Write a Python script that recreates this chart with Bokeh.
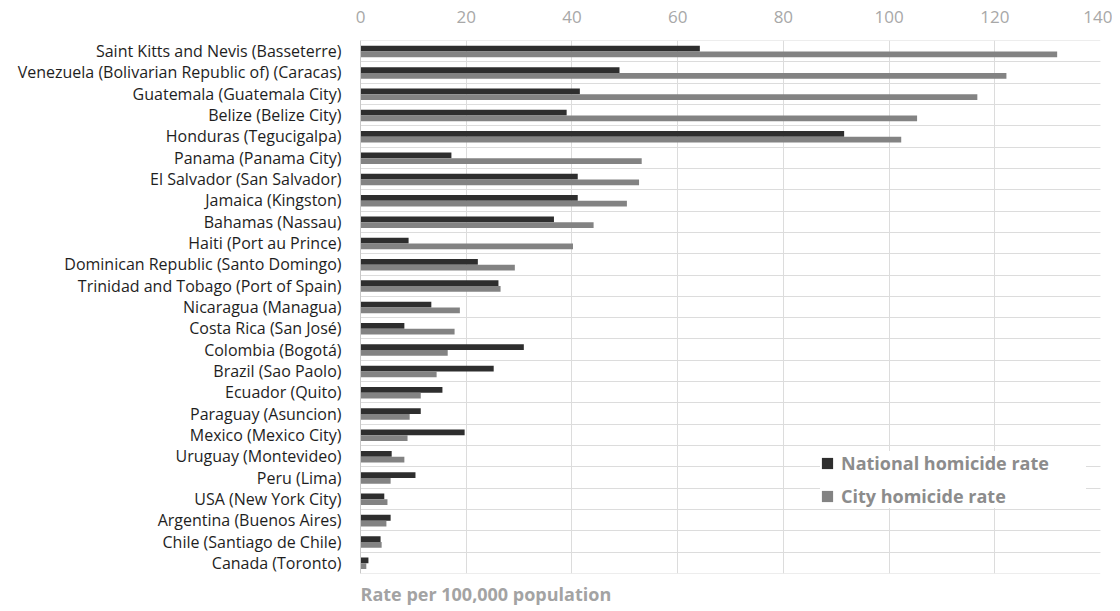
from bokeh.plotting import figure
from bokeh.models import (ColumnDataSource, FactorRange, Range1d, FixedTicker,
                          Legend, LegendItem, Title)
from bokeh.transform import dodge
from bokeh.embed import file_html
from bokeh.resources import INLINE

categories = [
    "Saint Kitts and Nevis (Basseterre)",
    "Venezuela (Bolivarian Republic of) (Caracas)",
    "Guatemala (Guatemala City)",
    "Belize (Belize City)",
    "Honduras (Tegucigalpa)",
    "Panama (Panama City)",
    "El Salvador (San Salvador)",
    "Jamaica (Kingston)",
    "Bahamas (Nassau)",
    "Haiti (Port au Prince)",
    "Dominican Republic (Santo Domingo)",
    "Trinidad and Tobago (Port of Spain)",
    "Nicaragua (Managua)",
    "Costa Rica (San José)",
    "Colombia (Bogotá)",
    "Brazil (Sao Paolo)",
    "Ecuador (Quito)",
    "Paraguay (Asuncion)",
    "Mexico (Mexico City)",
    "Uruguay (Montevideo)",
    "Peru (Lima)",
    "USA (New York City)",
    "Argentina (Buenos Aires)",
    "Chile (Santiago de Chile)",
    "Canada (Toronto)",
]
national = [64.2, 49.0, 41.5, 39.0, 91.5, 17.2, 41.1, 41.1, 36.6, 9.1,
            22.2, 26.1, 13.4, 8.3, 30.9, 25.2, 15.5, 11.4, 19.7, 5.9,
            10.4, 4.5, 5.7, 3.8, 1.5]
city = [131.8, 122.2, 116.7, 105.3, 102.3, 53.2, 52.7, 50.4, 44.1, 40.2,
        29.2, 26.5, 18.8, 17.8, 16.5, 14.4, 11.4, 9.3, 8.9, 8.3,
        5.7, 5.1, 4.9, 4.0, 1.1]
x_ticks = [0, 20, 40, 60, 80, 100, 120, 140]
series_names = ["National homicide rate", "City homicide rate"]
axis_title = "Rate per 100,000 population"

FONT = "Open Sans"
NAT_COLOR = "#2e2e2e"
CITY_COLOR = "#838383"
GRID_COLOR = "#dcdcdc"

source = ColumnDataSource(data=dict(cat=categories, national=national, city=city))

p = figure(
    width=1112, height=611,
    y_range=FactorRange(factors=list(reversed(categories)), range_padding=0),
    x_range=Range1d(0, 140),
    x_axis_location="above",
    output_backend="svg", toolbar_location=None,
    min_border_left=360, min_border_right=12, min_border_top=40, min_border_bottom=34,
)
p.outline_line_color = None
p.background_fill_color = "white"

# category boundary lines
p.hspan(y=dodge("cat", 0.5, range=p.y_range), source=source,
        line_color=GRID_COLOR, line_width=1)
p.hspan(y=dodge("cat", -0.5, range=p.y_range), source=source,
        line_color=GRID_COLOR, line_width=1)

r_nat = p.hbar(y=dodge("cat", 0.115, range=p.y_range), right="national", left=0,
               height=0.27, source=source, color=NAT_COLOR, line_color=None)
r_city = p.hbar(y=dodge("cat", -0.155, range=p.y_range), right="city", left=0,
                height=0.27, source=source, color=CITY_COLOR, line_color=None)

# x axis (top)
xa = p.xaxis[0]
xa.ticker = FixedTicker(ticks=x_ticks)
xa.axis_line_color = None
xa.major_tick_line_color = None
xa.minor_tick_line_color = None
xa.major_label_standoff = 12
xa.major_label_text_font = FONT
xa.major_label_text_font_size = "17px"
xa.major_label_text_color = "#a8a8a8"

p.xgrid.ticker = FixedTicker(ticks=x_ticks)
p.xgrid.grid_line_color = GRID_COLOR
p.ygrid.grid_line_color = None

ya = p.yaxis[0]
ya.axis_line_color = "#c8c8c8"
ya.major_tick_line_color = None
ya.minor_tick_line_color = None
ya.major_label_standoff = 13
ya.major_label_text_font = FONT
ya.major_label_text_font_size = "16px"
ya.major_label_text_color = "#1e1e1e"

# axis title at bottom-left
t = Title(text=axis_title, align="left", text_font=FONT, text_font_size="18px",
          text_font_style="bold", text_color="#a3a3a3", standoff=12)
p.add_layout(t, "below")

legend = Legend(
    items=[LegendItem(label=series_names[0], renderers=[r_nat]),
           LegendItem(label=series_names[1], renderers=[r_city])],
    location=(460, 65),
    background_fill_color="white", background_fill_alpha=1.0,
    border_line_color=None,
    label_text_font=FONT, label_text_font_size="18px", label_text_font_style="bold",
    label_text_color="#8c8c8c",
    glyph_width=14, glyph_height=14, label_standoff=7,
    label_width=245,
    spacing=9, padding=6, margin=0,
)
p.add_layout(legend, "center")

open("out.html", "w").write(file_html(p, INLINE))
